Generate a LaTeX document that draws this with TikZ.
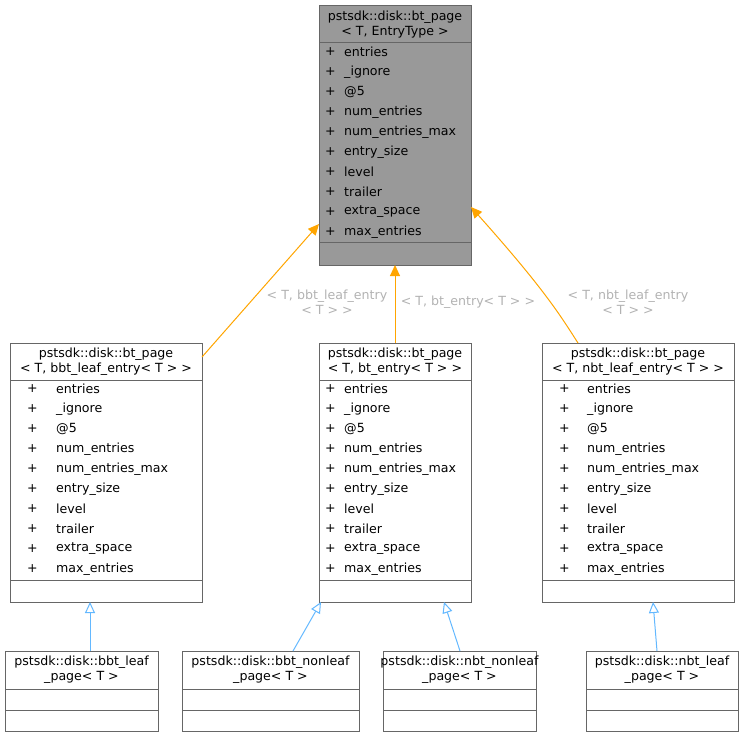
\documentclass[tikz,border=0pt]{standalone}
\usepackage{fontspec}
\setmainfont{DejaVu Sans}
\usetikzlibrary{arrows.meta}
\definecolor{org}{HTML}{FFA500}
\definecolor{blu}{HTML}{63B8FF}
\begin{document}
\begin{tikzpicture}[x=1pt,y=-1pt,
 box/.style={draw=black!60,line width=0.9pt,inner sep=0,anchor=north west},
 txt/.style={font=\fontsize{12.6}{15}\selectfont,inner sep=0,anchor=west},
 ctr/.style={font=\fontsize{12.6}{15}\selectfont,inner sep=0,align=center},
 lbl/.style={font=\fontsize{12.6}{15}\selectfont,inner sep=0,align=center,text=black!30},
 inst/.style={draw=org,line width=1pt,-{Triangle[open,fill=org,length=11pt,width=10pt]}},
 inh/.style={draw=blu,line width=1pt,-{Triangle[open,fill=white,length=11pt,width=10pt]}},
 sep/.style={draw=black!60,line width=0.9pt}]
\useasboundingbox (0,0) rectangle (744,737);
\def\attrs{{"entries","\_ignore","@5","num\_entries","num\_entries\_max","entry\_size","level","trailer","extra\_space","max\_entries"}}
% top
\path[fill=black!40] (319,5) rectangle (471,265);
\node[box,minimum width=152,minimum height=260] (top) at (319,5) {};
\node[ctr] (tt) at (395,25) {pstsdk::disk::bt\_page\\< T, EntryType >};
\draw[sep] (319,42) -- (471,42); \draw[sep] (319,242) -- (471,242);
\foreach \i in {0,...,9}{\node[txt] (tp\i) at (325,52+20*\i) {+}; \node[txt] (ta\i) at (344,52+20*\i) {\pgfmathparse{\attrs[\i]}\pgfmathresult};}
% middle row
\foreach \n/\x/\w/\px/\ax/\tl in {L/10/192/27/56/{< T, bbt\_leaf\_entry< T > >},M/319/152/325/344/{< T, bt\_entry< T > >},R/542/192/559/587/{< T, nbt\_leaf\_entry< T > >}}{
 \node[box,minimum width=\w,minimum height=259,fill=white] (\n) at (\x,343) {};
 \node[ctr] (\n t) at (\x+\w/2,362) {pstsdk::disk::bt\_page\\\tl};
 \draw[sep] (\x,380) -- (\x+\w,380); \draw[sep] (\x,580) -- (\x+\w,580);
 \foreach \i in {0,...,9}{\node[txt] (\n p\i) at (\px,389+20*\i) {+}; \node[txt] (\n a\i) at (\ax,389+20*\i) {\pgfmathparse{\attrs[\i]}\pgfmathresult};}
}
% bottom row
\foreach \n/\x/\w/\a/\b in {A/5/153/bbt\_leaf/\_page< T >,B/182/177/bbt\_nonleaf/\_page< T >,C/383/153/nbt\_nonleaf/\_page< T >,D/586/152/nbt\_leaf/\_page< T >}{
 \node[box,minimum width=\w,minimum height=80,fill=white] (\n) at (\x,651) {};
 \node[ctr] (\n t) at (\x+\w/2,670) {pstsdk::disk::\a\\\b};
 \draw[sep] (\x,689) -- (\x+\w,689); \draw[sep] (\x,710) -- (\x+\w,710);
}
% instance edges
\coordinate (l1) at (202,357); \coordinate (l2) at (319,224);
\draw[inst] (l1) -- (l2);
\coordinate (m1) at (395,343); \coordinate (m2) at (395,265);
\draw[inst] (m1) -- (m2);
\coordinate (r1) at (578,343); \coordinate (r2) at (471,207);
\draw[inst] (r1) .. controls (560,315) and (545,290) .. (r2);
\node[lbl] (lL) at (327,302) {< T, bbt\_leaf\_entry\\< T > >};
\node[lbl] (lM) at (468,302) {< T, bt\_entry< T > >};
\node[lbl] (lR) at (628,302) {< T, nbt\_leaf\_entry\\< T > >};
% inheritance edges
\coordinate (a1) at (90,651); \coordinate (a2) at (90,602);
\draw[inh] (a1) -- (a2);
\coordinate (b1) at (293,651); \coordinate (b2) at (321,602);
\draw[inh] (b1) -- (b2);
\coordinate (c1) at (460,651); \coordinate (c2) at (444,602);
\draw[inh] (c1) -- (c2);
\coordinate (d1) at (657,651); \coordinate (d2) at (653,602);
\draw[inh] (d1) -- (d2);
\end{tikzpicture}
\end{document}
